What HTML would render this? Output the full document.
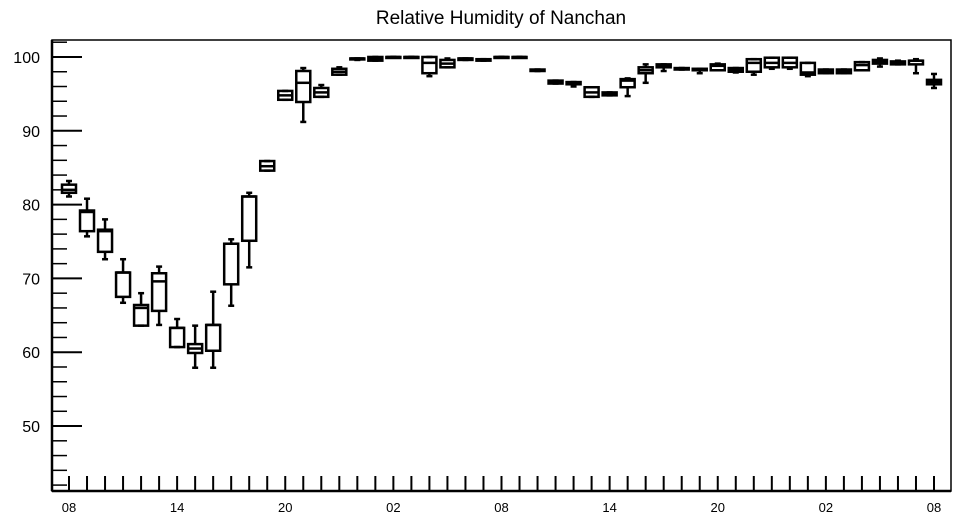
<!DOCTYPE html>
<html><head><meta charset="utf-8"><style>
html,body{margin:0;padding:0;background:#fff;}
svg{display:block;font-family:"Liberation Sans",Arial,sans-serif;}
</style></head><body>
<svg id="chart" width="957" height="520">
<text x="501" y="24" text-anchor="middle" font-size="19">Relative Humidity of Nanchan</text>
<rect x="52" y="40" width="899" height="451" fill="none" stroke="#000" stroke-width="1.5"/>
<g id="axes"></g>
<g id="boxes"></g>
</svg>
<script>
const hours=["08","09","10","11","12","13","14","15","16","17","18","19","20","21","22","23","00","01","02","03","04","05","06","07","08","09","10","11","12","13","14","15","16","17","18","19","20","21","22","23","00","01","02","03","04","05","06","07","08"];
const mins=[81.1,75.7,72.6,66.7,63.6,63.7,60.7,57.9,57.9,66.3,71.5,84.6,94.2,91.2,94.6,97.6,99.6,99.5,100,100,97.4,98.6,99.6,99.5,100,100,98.1,96.4,96.0,94.6,94.8,94.7,96.5,98.1,98.3,97.8,98.2,97.9,97.6,98.4,98.4,97.4,97.8,97.8,98.2,98.7,99.0,97.8,95.8];
const q1s=[81.6,76.4,73.6,67.5,63.6,65.6,60.7,59.9,60.2,69.2,75.1,84.6,94.2,93.9,94.6,97.6,99.7,99.5,99.9,99.9,97.8,98.6,99.6,99.5,99.9,99.9,98.1,96.4,96.3,94.6,94.8,95.9,97.8,98.6,98.3,98.2,98.2,98.0,98.0,98.6,98.6,97.6,97.8,97.8,98.2,99.1,99.0,99.0,96.3];
const meds=[82.0,79.0,76.4,70.8,66.0,69.6,63.3,60.5,63.7,74.7,81.1,85.2,94.8,96.5,95.2,98.0,99.8,99.7,100,100,99.2,99.1,99.8,99.6,100,100,98.2,96.6,96.5,95.2,95.0,96.8,98.2,98.8,98.4,98.3,98.8,98.2,99.2,99.2,99.2,97.9,98.0,98.0,98.9,99.4,99.1,99.5,96.6];
const q3s=[82.7,79.2,76.6,70.8,66.4,70.7,63.3,61.1,63.7,74.7,81.1,85.9,95.4,98.1,95.8,98.4,99.8,100,100,100,100,99.6,99.8,99.7,100,100,98.3,96.8,96.6,95.9,95.2,97.0,98.6,99.0,98.5,98.4,99.0,98.5,99.7,99.9,99.9,99.2,98.3,98.3,99.3,99.6,99.4,99.5,96.9];
const maxs=[83.2,80.8,78.0,72.6,68.0,71.6,64.5,63.6,68.2,75.3,81.6,85.9,95.4,98.5,96.2,98.6,99.8,100,100,100,100,99.8,99.8,99.7,100,100,98.3,96.8,96.6,95.9,95.2,97.1,99.0,99.0,98.5,98.4,99.1,98.5,99.7,99.9,99.9,99.2,98.3,98.3,99.3,99.8,99.5,99.7,97.7];
const yTicks=[50,60,70,80,90,100];
const xLabels=["08","14","20","02","08","14","20","02","08"];
(function(){
const NS="http://www.w3.org/2000/svg";
const yMin=41.2,yMax=102.3,plotTop=40,plotBottom=491;
function ys(v){return plotBottom-(v-yMin)/(yMax-yMin)*(plotBottom-plotTop);}
function xs(i){return 69+i*(934-69)/(hours.length-1);}
function mk(tag,attrs,parent){const e=document.createElementNS(NS,tag);for(const k in attrs)e.setAttribute(k,attrs[k]);parent.appendChild(e);return e;}
const axes=document.getElementById('axes');
const yax=mk('line',{x1:52,y1:40,x2:52,y2:491,stroke:'#000','stroke-width':2.5},axes);


const xax=mk('line',{x1:52,y1:491,x2:951,y2:491,stroke:'#000','stroke-width':2.5},axes);


for(let v=42;v<=102;v+=2){
  const major=(v%10===0);
  const t=mk('line',{x1:52,y1:ys(v),x2:major?82:67,y2:ys(v),stroke:'#000','stroke-width':major?2:1.5},axes);
  
  
}
yTicks.forEach(v=>{
  const t=mk('text',{x:40,y:ys(v)+6,'text-anchor':'end','font-size':16},axes);
  t.textContent=String(v);
  
  
});
for(let i=0;i<hours.length;i++){
  const t=mk('line',{x1:xs(i),y1:491,x2:xs(i),y2:476,stroke:'#000','stroke-width':2},axes);
  
  
}
xLabels.forEach((l,k)=>{
  const t=mk('text',{x:xs(k*6),y:512,'text-anchor':'middle','font-size':13},axes);
  t.textContent=l;
  
  
});
const boxes=document.getElementById('boxes');
for(let i=0;i<hours.length;i++){
  const g=mk('g',{stroke:'#000','stroke-width':2.5,fill:'none'},boxes);
  
  
  const cx=xs(i),w=7;
  mk('line',{x1:cx,y1:ys(maxs[i]),x2:cx,y2:ys(q3s[i])},g);
  mk('line',{x1:cx,y1:ys(q1s[i]),x2:cx,y2:ys(mins[i])},g);
  mk('line',{x1:cx-3,y1:ys(maxs[i]),x2:cx+3,y2:ys(maxs[i])},g);
  mk('line',{x1:cx-3,y1:ys(mins[i]),x2:cx+3,y2:ys(mins[i])},g);
  mk('rect',{x:cx-w,y:ys(q3s[i]),width:2*w,height:Math.max(1,ys(q1s[i])-ys(q3s[i]))},g);
  mk('line',{x1:cx-w,y1:ys(meds[i]),x2:cx+w,y2:ys(meds[i])},g);
}
})();
</script>
</body></html>
